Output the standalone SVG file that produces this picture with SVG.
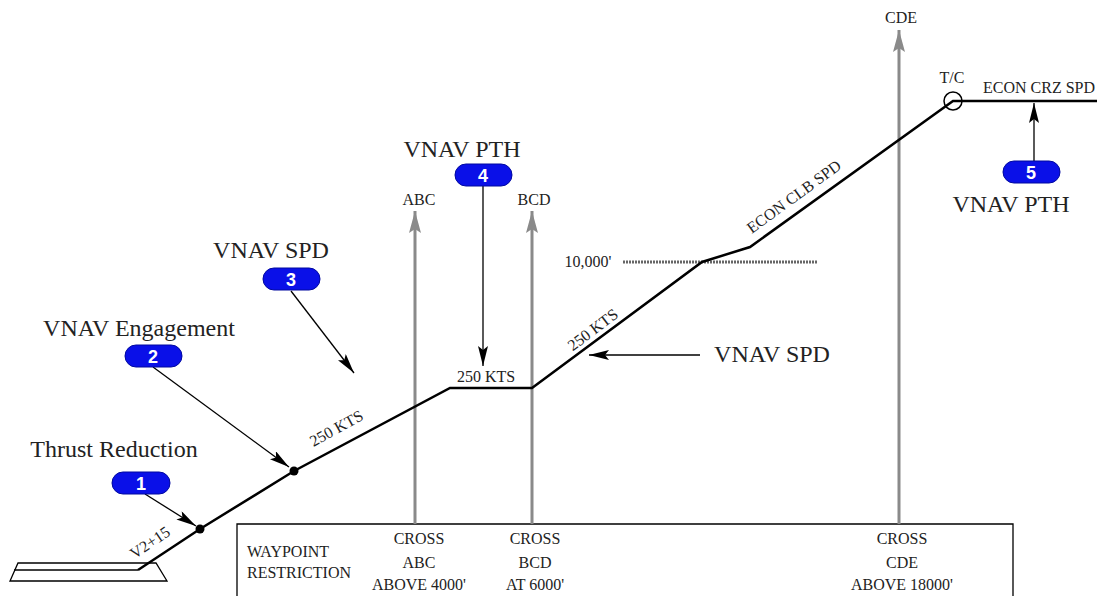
<svg xmlns="http://www.w3.org/2000/svg" width="1097" height="596" viewBox="0 0 1097 596">
<style>
.t{font-family:"Liberation Serif","Times New Roman",serif;fill:#222}
.big{font-size:24px}
.sm{font-size:16px}
.path{fill:none;stroke:#000;stroke-width:2.5}
.gray{stroke:#8a8a8a;stroke-width:3;fill:none}
.lead{stroke:#000;stroke-width:1.3;fill:none}
.badge{fill:#0a10e8;stroke:#0008a0;stroke-width:1}
.num{font-family:"Liberation Sans",Arial,sans-serif;font-weight:bold;font-size:18px;fill:#fff;text-anchor:middle}
</style>
<defs>
<marker id="ah" viewBox="0 0 20 10" refX="20" refY="5" markerWidth="20" markerHeight="10" markerUnits="userSpaceOnUse" orient="auto"><path d="M0,0 L20,5 L0,10 L4,5 z" fill="#000"/></marker>
<marker id="ag" viewBox="0 0 22 12" refX="22" refY="6" markerWidth="22" markerHeight="12" markerUnits="userSpaceOnUse" orient="auto"><path d="M0,0 L22,6 L0,12 L4,6 z" fill="#8a8a8a"/></marker>
</defs>
<rect width="1097" height="596" fill="#fff"/>

<g id="runway">
<path d="M18,563 L156,563 L167,581 L10,581 Z" fill="none" stroke="#000" stroke-width="1.3"/>
<path d="M14,570 L138,570" fill="none" stroke="#000" stroke-width="1.3"/>
</g>

<g id="box">
<path d="M237,596 L237,524 L1013,524 L1013,596" fill="none" stroke="#000" stroke-width="1.3"/>
<text class="t sm" x="247" y="557">WAYPOINT</text>
<text class="t sm" x="247" y="578">RESTRICTION</text>
<text class="t sm" x="419" y="544" text-anchor="middle">CROSS</text>
<text class="t sm" x="419" y="568" text-anchor="middle">ABC</text>
<text class="t sm" x="419" y="590" text-anchor="middle">ABOVE 4000'</text>
<text class="t sm" x="535" y="544" text-anchor="middle">CROSS</text>
<text class="t sm" x="535" y="568" text-anchor="middle">BCD</text>
<text class="t sm" x="535" y="590" text-anchor="middle">AT 6000'</text>
<text class="t sm" x="902" y="544" text-anchor="middle">CROSS</text>
<text class="t sm" x="902" y="568" text-anchor="middle">CDE</text>
<text class="t sm" x="902" y="590" text-anchor="middle">ABOVE 18000'</text>
</g>

<g id="tenk">
<line x1="623" y1="262" x2="818" y2="262" stroke="#666" stroke-width="3" stroke-dasharray="2 1"/>
<text class="t sm" x="588" y="267" text-anchor="middle">10,000'</text>
</g>

<g id="connectors">
<line class="gray" x1="415" y1="524" x2="415" y2="211" marker-end="url(#ag)"/>
<line class="gray" x1="532" y1="524" x2="532" y2="211" marker-end="url(#ag)"/>
<line class="gray" x1="899" y1="524" x2="899" y2="30" marker-end="url(#ag)"/>
<line class="lead" x1="145" y1="494" x2="196" y2="526" marker-end="url(#ah)"/>
<line class="lead" x1="153" y1="367" x2="289" y2="467" marker-end="url(#ah)"/>
<line class="lead" x1="291" y1="291" x2="354" y2="373" marker-end="url(#ah)"/>
<line class="lead" x1="483" y1="186" x2="483" y2="366" marker-end="url(#ah)"/>
<line class="lead" x1="700" y1="355" x2="589" y2="355" marker-end="url(#ah)"/>
<line class="lead" x1="1034" y1="161" x2="1034" y2="103" marker-end="url(#ah)"/>
</g>

<g id="flightpath">
<polyline class="path" points="138,570 200,529 294,471 450,388 532,388 702,262 750,247 953,101 1097,101"/>
<circle cx="953" cy="101" r="9" fill="none" stroke="#000" stroke-width="1.5"/>
<circle cx="200" cy="529" r="4.5" fill="#000"/>
<circle cx="294" cy="471" r="4.5" fill="#000"/>
</g>

<g id="path-labels">
<text class="t sm" x="0" y="0" transform="translate(153,547) rotate(-34)" text-anchor="middle">V2+15</text>
<text class="t sm" x="0" y="0" transform="translate(339,433) rotate(-29)" text-anchor="middle">250 KTS</text>
<text class="t sm" x="486" y="382" text-anchor="middle">250 KTS</text>
<text class="t sm" x="0" y="0" transform="translate(596,334) rotate(-37)" text-anchor="middle">250 KTS</text>
<text class="t sm" x="0" y="0" transform="translate(797,201) rotate(-36)" text-anchor="middle">ECON CLB SPD</text>
<text class="t sm" x="952" y="83" text-anchor="middle">T/C</text>
<text class="t sm" x="1039" y="93" text-anchor="middle">ECON CRZ SPD</text>
<text class="t sm" x="419" y="205" text-anchor="middle">ABC</text>
<text class="t sm" x="534" y="205" text-anchor="middle">BCD</text>
<text class="t sm" x="901" y="23" text-anchor="middle">CDE</text>
</g>

<g id="n1">
<text class="t big" x="114" y="457" text-anchor="middle">Thrust Reduction</text>
<rect class="badge" x="112" y="472" width="58" height="22" rx="11"/>
<text class="num" x="141" y="490">1</text>
</g>
<g id="n2">
<text class="t big" x="139" y="336" text-anchor="middle">VNAV Engagement</text>
<rect class="badge" x="125" y="345" width="57" height="22" rx="11"/>
<text class="num" x="153" y="363">2</text>
</g>
<g id="n3">
<text class="t big" x="271" y="258" text-anchor="middle">VNAV SPD</text>
<rect class="badge" x="263" y="268" width="57" height="22" rx="11"/>
<text class="num" x="291" y="286">3</text>
</g>
<g id="n4">
<text class="t big" x="462" y="157" text-anchor="middle">VNAV PTH</text>
<rect class="badge" x="455" y="164" width="57" height="22" rx="11"/>
<text class="num" x="483" y="182">4</text>
</g>
<g id="n5">
<rect class="badge" x="1003" y="161" width="57" height="22" rx="11"/>
<text class="num" x="1031" y="179">5</text>
<text class="t big" x="1011" y="212" text-anchor="middle">VNAV PTH</text>
</g>
<g id="n6">
<text class="t big" x="772" y="362" text-anchor="middle">VNAV SPD</text>
</g>
</svg>
